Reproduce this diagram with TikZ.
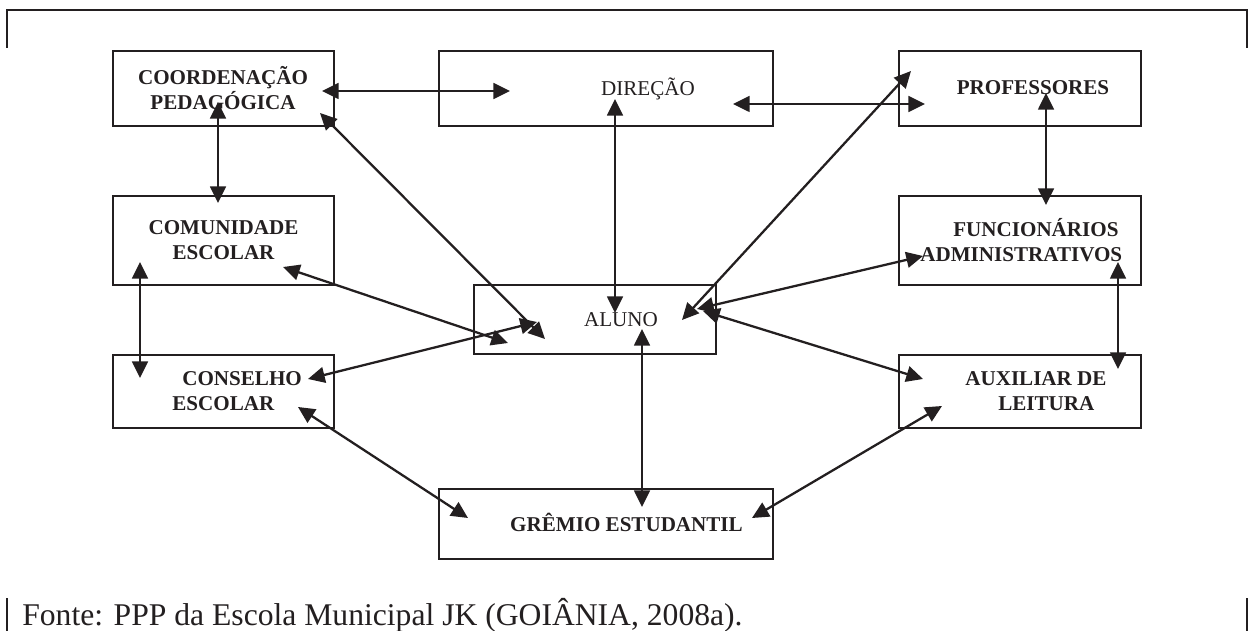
\documentclass[tikz,border=0pt]{standalone}
\usepackage{fontspec}
\setmainfont{Liberation Serif}
\usetikzlibrary{arrows.meta}
\definecolor{ink}{HTML}{231F20}

\begin{document}
\begin{tikzpicture}[x=0.02cm,y=-0.02cm,
    every node/.style={inner sep=0pt},
    box/.style={draw=ink,line width=1.3pt,rectangle},
    lbl/.style={font=\fontsize{12}{14.2}\selectfont\bfseries,text=ink},
    plain/.style={font=\fontsize{12}{14.2}\selectfont,text=ink},
    link/.style={draw=ink,line width=1.3pt,
        {Triangle[length=9.5pt,width=9pt]}-{Triangle[length=9.5pt,width=9pt]}}]
    \useasboundingbox (0,0) rectangle (1248,631);

    % Frame
    \draw[ink,line width=1.3pt] (7,48) -- (7,10) -- (1247,10) -- (1247,48);
    \draw[ink,line width=1.3pt] (7,598) -- (7,631);
    \draw[ink,line width=1.3pt] (1247,598) -- (1247,631);

    % Boxes
    \node[box,minimum width=4.42cm,minimum height=1.5cm] (coord) at (223.5,88.5) {};
    \node[box,minimum width=6.68cm,minimum height=1.5cm] (dir) at (606,88.5) {};
    \node[box,minimum width=4.84cm,minimum height=1.5cm] (prof) at (1020,88.5) {};
    \node[box,minimum width=4.42cm,minimum height=1.78cm] (comu) at (223.5,240.5) {};
    \node[box,minimum width=4.84cm,minimum height=1.78cm] (func) at (1020,240.5) {};
    \node[box,minimum width=4.84cm,minimum height=1.38cm] (aluno) at (595,319.5) {};
    \node[box,minimum width=4.42cm,minimum height=1.46cm] (cons) at (223.5,391.5) {};
    \node[box,minimum width=4.84cm,minimum height=1.46cm] (aux) at (1020,391.5) {};
    \node[box,minimum width=6.68cm,minimum height=1.4cm] (grem) at (606,524) {};

    % Labels
    \node[lbl,align=center] (coord-t) at (223,88) {COORDENAÇÃO\\PEDAGÓGICA};
    \node[plain,anchor=base] (dir-t) at (648,96) {DIREÇÃO};
    \node[lbl,anchor=base] (prof-t) at (1033,95) {PROFESSORES};
    \node[lbl,align=center] (comu-t) at (223.5,240.5) {COMUNIDADE\\ESCOLAR};
    \node[lbl,align=left,anchor=west] (func-t) at (920,240.5)
        {\hspace*{0.66cm}FUNCIONÁRIOS\\ADMINISTRATIVOS};
    \node[plain,anchor=base] (aluno-t) at (621,327) {ALUNO};
    \node[lbl,align=left,anchor=west] (cons-t) at (172,391.5)
        {\hspace*{0.2cm}CONSELHO\\ESCOLAR};
    \node[lbl,align=left,anchor=west] (aux-t) at (965,391.5)
        {AUXILIAR DE\\\hspace*{0.66cm}LEITURA};
    \node[lbl,anchor=base] (grem-t) at (626.5,532) {GRÊMIO ESTUDANTIL};

    % Arrow ends
    \coordinate (coord-dir) at (322,91);   \coordinate (dir-coord) at (510,91);
    \coordinate (dir-prof) at (733,104);   \coordinate (prof-dir) at (925,104);
    \coordinate (coord-comu) at (218,102); \coordinate (comu-coord) at (218,203);
    \coordinate (coord-aluno) at (320,113);\coordinate (aluno-coord) at (545,339);
    \coordinate (dir-aluno) at (615,99);   \coordinate (aluno-dir) at (615,313);
    \coordinate (prof-aluno) at (911,71);  \coordinate (aluno-prof) at (682,320);
    \coordinate (prof-func) at (1046,93);  \coordinate (func-prof) at (1046,205);
    \coordinate (comu-aluno) at (283,267); \coordinate (aluno-comu) at (508,343);
    \coordinate (cons-aluno) at (308,379); \coordinate (aluno-cons) at (537,322);
    \coordinate (comu-cons) at (140,262);  \coordinate (cons-comu) at (140,378);
    \coordinate (func-aluno) at (923,256); \coordinate (aluno-func) at (697,309);
    \coordinate (aux-aluno) at (923,379);  \coordinate (aluno-aux) at (703,311);
    \coordinate (func-aux) at (1118,262);  \coordinate (aux-func) at (1118,369);
    \coordinate (cons-grem) at (298,407);  \coordinate (grem-cons) at (468,518);
    \coordinate (aluno-grem) at (642,329); \coordinate (grem-aluno) at (642,507);
    \coordinate (grem-aux) at (752,518);   \coordinate (aux-grem) at (942,406);

    % Links
    \draw[link] (coord-dir) -- (dir-coord);
    \draw[link] (dir-prof) -- (prof-dir);
    \draw[link] (coord-comu) -- (comu-coord);
    \draw[link] (coord-aluno) -- (aluno-coord);
    \draw[link] (dir-aluno) -- (aluno-dir);
    \draw[link] (prof-aluno) -- (aluno-prof);
    \draw[link] (prof-func) -- (func-prof);
    \draw[link] (comu-aluno) -- (aluno-comu);
    \draw[link] (cons-aluno) -- (aluno-cons);
    \draw[link] (comu-cons) -- (cons-comu);
    \draw[link] (func-aluno) -- (aluno-func);
    \draw[link] (aux-aluno) -- (aluno-aux);
    \draw[link] (func-aux) -- (aux-func);
    \draw[link] (cons-grem) -- (grem-cons);
    \draw[link] (aluno-grem) -- (grem-aluno);
    \draw[link] (grem-aux) -- (aux-grem);

    % Source
    \node[anchor=base west,font=\fontsize{18}{21}\selectfont,text=ink] (fonte) at (22,625)
        {Fonte: PPP da Escola Municipal JK (GOIÂNIA, 2008a).};
\end{tikzpicture}
\end{document}
